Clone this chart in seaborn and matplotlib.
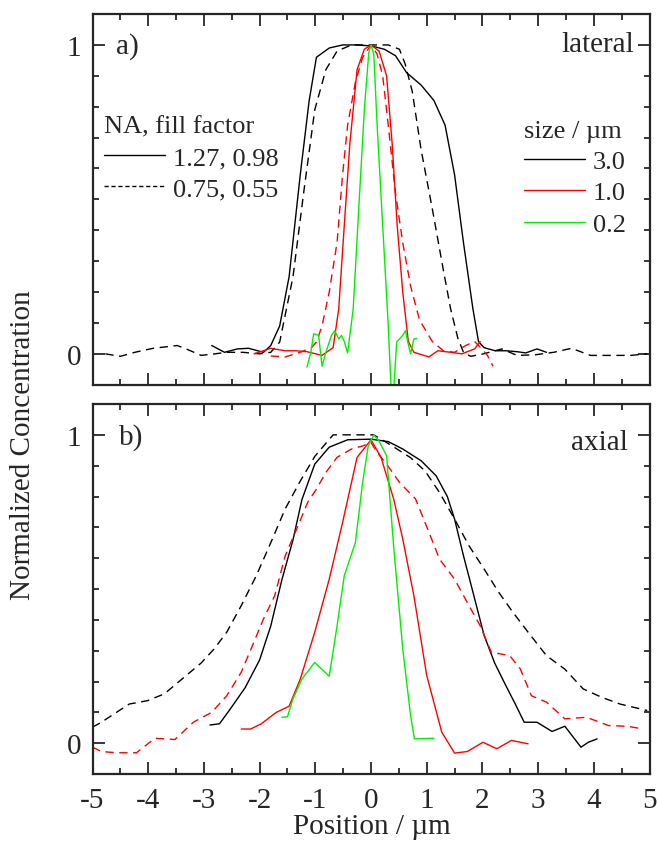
import numpy as np
import pandas as pd
import matplotlib.pyplot as plt
import seaborn as sns
from matplotlib.lines import Line2D
from matplotlib.ticker import MultipleLocator

# ---- lateral (a) ----
lat_x_30_hi = [-2.86, -2.63, -2.4, -2.2, -1.93, -1.80, -1.64, -1.47, -1.27, -1.11, -0.98, -0.75, -0.51,
               -0.28, 0.0, 0.24, 0.44, 0.64, 0.90, 1.13, 1.33, 1.50, 1.66, 1.83, 1.93, 2.03, 2.23,
               2.43, 2.62, 2.78, 2.98, 3.15]
lat_y_30_hi = [0.027, 0.005, 0.016, 0.018, 0.005, 0.027, 0.09, 0.25, 0.58, 0.82, 0.96, 0.99, 1.0,
               1.0, 0.997, 0.986, 0.965, 0.91, 0.87, 0.82, 0.74, 0.58, 0.36, 0.145, 0.04, 0.02, 0.01,
               0.01, 0.007, 0.003, 0.016, 0.005]

lat_x_30_lo = [-4.77, -4.5, -4.24, -3.91, -3.48, -3.32, -3.05, -2.8, -2.6, -2.3, -2.0, -1.80, -1.64,
               -1.40, -1.21, -1.01, -0.81, -0.61, -0.35, 0.0, 0.31, 0.51, 0.61, 0.74, 0.90, 1.10,
               1.30, 1.43, 1.56, 1.66, 1.79, 2.02, 2.35, 2.62, 2.95, 3.28, 3.60, 3.94, 4.33, 4.66, 4.96]
lat_y_30_lo = [0.0, -0.008, 0.005, 0.018, 0.027, 0.016, -0.005, 0.0, 0.005, 0.005, 0.0, 0.005, 0.038,
               0.25, 0.52, 0.79, 0.92, 0.98, 1.0, 1.0, 1.0, 0.986, 0.94, 0.85, 0.66, 0.47,
               0.27, 0.145, 0.05, 0.005, -0.008, 0.0, 0.016, -0.005, -0.003, 0.005, 0.018, -0.005, -0.005, -0.005, 0.0]

lat_x_10_hi = [-2.10, -1.80, -1.54, -1.35, -1.15, -0.88, -0.68, -0.58, -0.48, -0.38, -0.25, -0.12, 0.0,
               0.145, 0.28, 0.38, 0.47, 0.57, 0.67, 0.77, 1.04, 1.20, 1.43, 1.63, 1.86, 1.96]
lat_y_10_hi = [-0.0, 0.018, 0.01, 0.01, 0.007, -0.005, 0.02, 0.145, 0.415, 0.68, 0.92, 0.986, 1.0,
               0.98, 0.9, 0.68, 0.415, 0.2, 0.04, 0.005, -0.01, 0.01, 0.005, 0.0, 0.016, 0.04]

lat_x_10_lo = [-1.80, -1.54, -1.27, -1.07, -0.98, -0.88, -0.75, -0.61, -0.51, -0.42, -0.28, -0.15, 0.0,
               0.11, 0.21, 0.31, 0.44, 0.57, 0.71, 0.87, 1.10, 1.30, 1.50, 1.70, 1.86, 1.99, 2.09, 2.19]
lat_y_10_lo = [-0.007, -0.01, 0.005, 0.02, 0.038, 0.09, 0.2, 0.36, 0.58, 0.74, 0.88, 0.96, 1.0,
               0.97, 0.9, 0.74, 0.52, 0.36, 0.22, 0.11, 0.04, 0.01, 0.005, 0.027, 0.04, 0.016, -0.005, -0.04]

lat_x_02_hi = [-1.15, -1.08, -1.03, -0.94, -0.88, -0.81, -0.71, -0.65, -0.58, -0.53, -0.48, -0.42,
               -0.32, -0.22, -0.12, -0.04, 0.0, 0.05, 0.11, 0.21, 0.31, 0.36, 0.41, 0.46, 0.52,
               0.57, 0.62, 0.66, 0.71, 0.77, 0.82]
lat_y_02_hi = [-0.043, 0.005, 0.065, 0.06, -0.04, 0.005, 0.06, 0.075, 0.048, 0.06, 0.04, 0.003,
               0.145, 0.47, 0.79, 0.975, 1.0, 0.97, 0.74, 0.415, 0.09, -0.11, -0.11, 0.038, 0.05,
               0.06, 0.075, 0.038, 0.0, 0.048, 0.05]

# ---- axial (b) ----
ax_x_30_hi = [-2.89, -2.72, -2.53, -2.26, -2.0, -1.80, -1.60, -1.40, -1.24, -1.01, -0.75, -0.42, 0.0,
              0.31, 0.57, 0.90, 1.17, 1.37, 1.50, 1.66, 1.83, 2.03, 2.22, 2.42, 2.59, 2.75, 2.98,
              3.25, 3.48, 3.77, 3.90, 4.06]
ax_y_30_hi = [0.059, 0.063, 0.11, 0.18, 0.27, 0.38, 0.53, 0.66, 0.79, 0.905, 0.96, 0.984, 0.986,
              0.978, 0.954, 0.916, 0.867, 0.8, 0.727, 0.608, 0.49, 0.35, 0.26, 0.187, 0.127, 0.068, 0.068,
              0.038, 0.055, -0.013, 0.003, 0.014]

ax_x_30_lo = [-5.0, -4.84, -4.57, -4.34, -4.01, -3.71, -3.38, -3.05, -2.82, -2.59, -2.33, -2.06, -1.80,
              -1.54, -1.27, -1.01, -0.68, -0.35, 0.05, 0.38, 0.71, 0.97, 1.23, 1.50, 1.76, 2.03,
              2.29, 2.55, 2.82, 3.15, 3.48, 3.81, 4.14, 4.47, 4.96]
ax_y_30_lo = [0.052, 0.068, 0.1, 0.127, 0.138, 0.16, 0.21, 0.26, 0.305, 0.36, 0.446, 0.543, 0.65,
              0.76, 0.85, 0.93, 1.0, 1.0, 1.0, 0.964, 0.926, 0.883, 0.813, 0.727, 0.64, 0.565,
              0.49, 0.424, 0.36, 0.284, 0.24, 0.176, 0.149, 0.127, 0.106]

ax_x_10_hi = [-2.33, -2.16, -1.97, -1.70, -1.47, -1.27, -1.01, -0.75, -0.51, -0.25, 0.0, 0.18, 0.41,
              0.57, 0.77, 1.0, 1.27, 1.50, 1.73, 2.01, 2.26, 2.52, 2.82]
ax_y_10_hi = [0.046, 0.046, 0.063, 0.1, 0.12, 0.208, 0.36, 0.532, 0.716, 0.927, 0.984, 0.927, 0.79,
              0.662, 0.478, 0.22, 0.036, -0.032, -0.027, 0.003, -0.018, 0.009, -0.002]

ax_x_10_lo = [-5.0, -4.84, -4.57, -4.21, -3.88, -3.52, -3.19, -2.86, -2.59, -2.33, -2.13, -1.93, -1.73,
              -1.54, -1.31, -1.14, -0.98, -0.81, -0.61, -0.35, -0.15, 0.0, 0.11, 0.28, 0.51, 0.80,
              1.04, 1.23, 1.50, 1.76, 1.96, 2.16, 2.49, 2.68, 2.88, 3.15, 3.48, 3.87, 4.27, 4.60, 4.89]
ax_y_10_lo = [-0.013, -0.027, -0.031, -0.031, 0.016, 0.012, 0.068, 0.1, 0.154, 0.23, 0.316, 0.403, 0.478,
              0.608, 0.705, 0.78, 0.824, 0.878, 0.927, 0.954, 0.964, 0.975, 0.943, 0.905, 0.846, 0.792,
              0.684, 0.597, 0.532, 0.446, 0.381, 0.295, 0.284, 0.241, 0.154, 0.133, 0.079, 0.084, 0.057, 0.055, 0.046]

ax_x_02_hi = [-1.60, -1.50, -1.40, -1.24, -1.01, -0.75, -0.61, -0.48, -0.28, -0.15, -0.05, 0.05, 0.145,
              0.28, 0.41, 0.57, 0.71, 0.78, 1.13]
ax_y_02_hi = [0.084, 0.086, 0.144, 0.208, 0.262, 0.217, 0.38, 0.543, 0.651, 0.846, 0.964, 1.0, 0.98,
              0.932, 0.63, 0.306, 0.09, 0.014, 0.016]

sns.set_style("ticks")
plt.rcParams["font.family"] = ["Liberation Serif", "DejaVu Serif"]
plt.rcParams["axes.unicode_minus"] = False
fs = 21
lfs = 19

fig = plt.figure(figsize=(6.57, 8.45), dpi=100)
ax1 = fig.add_axes([0.1408, 0.5435, 0.8478, 0.4387])
ax2 = fig.add_axes([0.1408, 0.0828, 0.8478, 0.4379])

dash = (0, (6, 4))
lw = 1.0
green = "#00f000"

def draw(ax, x, y, color, ls):
    df = pd.DataFrame({"x": x, "y": y})
    sns.lineplot(data=df, x="x", y="y", ax=ax, color=color, linewidth=lw,
                 sort=False, estimator=None, linestyle=ls, legend=False)

draw(ax1, lat_x_30_lo, lat_y_30_lo, "black", dash)
draw(ax1, lat_x_30_hi, lat_y_30_hi, "black", "-")
draw(ax1, lat_x_10_lo, lat_y_10_lo, "#ff0000", dash)
draw(ax1, lat_x_10_hi, lat_y_10_hi, "#ff0000", "-")
draw(ax1, lat_x_02_hi, lat_y_02_hi, green, "-")

draw(ax2, ax_x_30_lo, ax_y_30_lo, "black", dash)
draw(ax2, ax_x_30_hi, ax_y_30_hi, "black", "-")
draw(ax2, ax_x_10_lo, ax_y_10_lo, "#ff0000", dash)
draw(ax2, ax_x_10_hi, ax_y_10_hi, "#ff0000", "-")
draw(ax2, ax_x_02_hi, ax_y_02_hi, green, "-")

for ax in (ax1, ax2):
    ax.set_xlim(-5, 5)
    ax.set_ylim(-0.1, 1.1)
    ax.set_xlabel("")
    ax.set_ylabel("")
    ax.xaxis.set_major_locator(MultipleLocator(1))
    ax.xaxis.set_minor_locator(MultipleLocator(0.5))
    ax.yaxis.set_major_locator(MultipleLocator(1))
    ax.yaxis.set_minor_locator(MultipleLocator(0.1))
    ax.tick_params(which="both", direction="in", top=True, right=True, width=1.3, labelsize=fs)
    ax.tick_params(which="major", length=8.5)
    ax.tick_params(which="minor", length=4.5)
    ax.tick_params(axis="y", which="major", pad=8)
    ax.tick_params(axis="x", which="major", pad=9)
    for s in ax.spines.values():
        s.set_visible(True)
        s.set_linewidth(1.6)
ax1.tick_params(labelbottom=False)

ax1.text(0.043, 0.914, "a)", transform=ax1.transAxes, fontsize=fs, va="center")
ax1.text(0.972, 0.92, "lateral", transform=ax1.transAxes, fontsize=fs, va="center", ha="right")
ax2.text(0.048, 0.912, "b)", transform=ax2.transAxes, fontsize=fs, va="center")
ax2.text(0.962, 0.898, "axial", transform=ax2.transAxes, fontsize=fs, va="center", ha="right")

h_na = [Line2D([], [], color="black", lw=lw, ls="-"),
        Line2D([], [], color="black", lw=lw, ls=(0, (3, 2)))]
leg1 = ax1.legend(h_na, ["1.27, 0.98", "0.75, 0.55"], title="NA, fill factor",
                  loc="upper left", bbox_to_anchor=(-0.012, 0.775), frameon=False,
                  fontsize=lfs, title_fontsize=lfs, handlelength=2.3, handletextpad=0.3,
                  labelspacing=0.3, alignment="left", borderaxespad=0.3)
ax1.add_artist(leg1)
h_sz = [Line2D([], [], color=c, lw=lw) for c in ["black", "#ff0000", green]]
ax1.legend(h_sz, ["3.0", "1.0", "0.2"], title="size / \u00b5m",
           loc="upper left", bbox_to_anchor=(0.742, 0.765), frameon=False,
           fontsize=lfs, title_fontsize=lfs, handlelength=2.3, handletextpad=0.3,
           labelspacing=0.3, alignment="left", borderaxespad=0.3)

fig.text(0.035, 0.473, "Normalized Concentration", rotation=90, fontsize=fs,
         ha="center", va="center")
fig.text(0.566, 0.021, "Position / \u00b5m", fontsize=fs, ha="center", va="center")

fig.savefig("out.png", dpi=100)
